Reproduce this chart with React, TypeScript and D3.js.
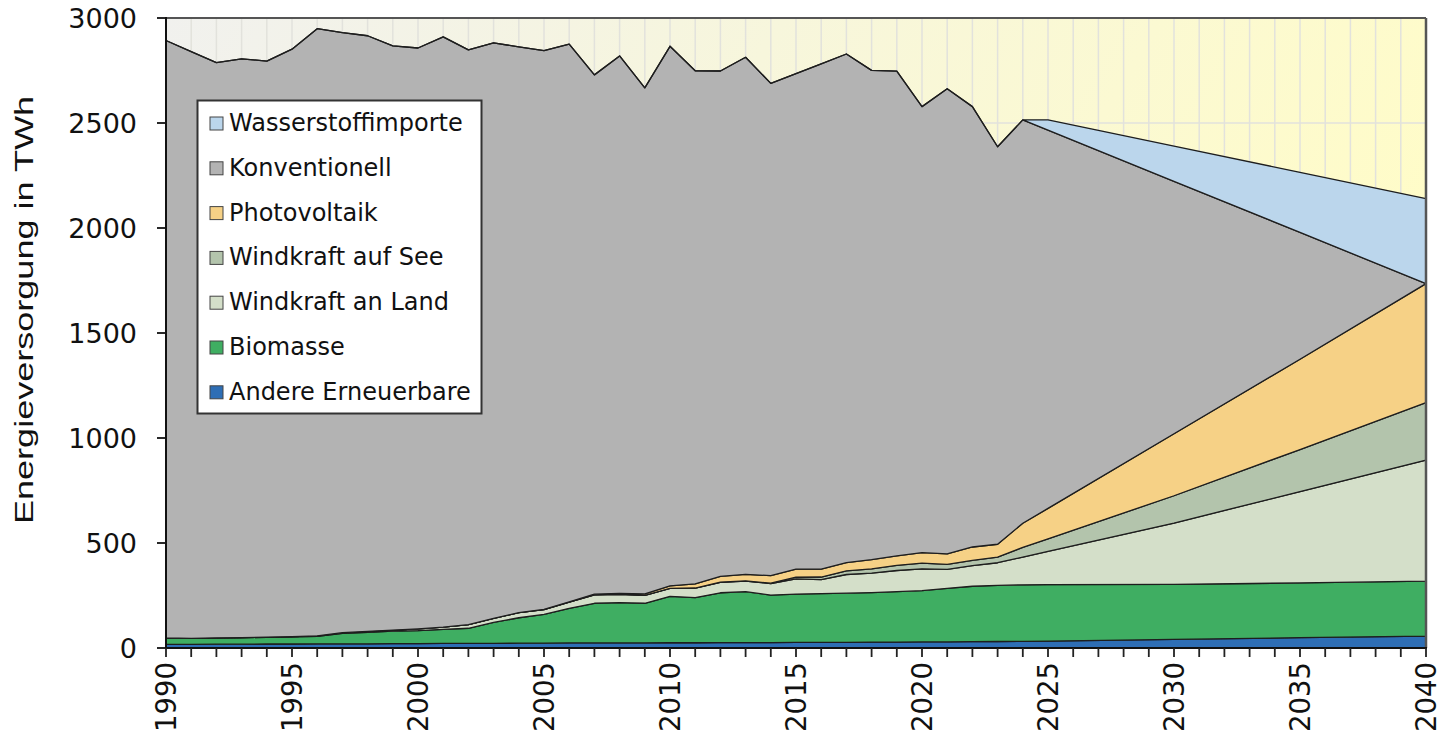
import React, { useEffect, useRef } from "react";
import * as d3 from "d3";

// years: yearly up to 2025, then the projection points
const years = [
  1990, 1991, 1992, 1993, 1994, 1995, 1996, 1997, 1998, 1999,
  2000, 2001, 2002, 2003, 2004, 2005, 2006, 2007, 2008, 2009,
  2010, 2011, 2012, 2013, 2014, 2015, 2016, 2017, 2018, 2019,
  2020, 2021, 2022, 2023, 2024, 2025, 2030, 2035, 2040,
];

// TWh per source
const andereErneuerbare = [
  17, 17, 18, 18, 19, 19, 20, 20, 20, 21,
  21, 22, 22, 22, 23, 23, 24, 24, 24, 24,
  25, 25, 26, 26, 26, 27, 27, 27, 28, 28,
  29, 29, 30, 31, 32, 33, 41, 49, 57,
];
const biomasse = [
  31, 29, 30, 31, 32, 34, 36, 50, 55, 59,
  62, 67, 72, 100, 121, 137, 165, 189, 192, 189,
  221, 215, 237, 242, 226, 230, 232, 234, 236, 240,
  244, 255, 264, 267, 269, 269, 262, 261, 261,
];
const windLand = [
  0, 0.2, 0.3, 0.6, 0.9, 1.5, 2, 3, 4.5, 5.5,
  8, 10, 17, 19, 24, 23, 29, 40, 40, 38,
  38, 45, 50, 51, 55, 72, 67, 89, 93, 101,
  104, 90, 98, 108, 132, 158, 292, 435, 577,
];
const windSee = [
  0, 0, 0, 0, 0, 0, 0, 0, 0, 0,
  0, 0, 0, 0, 0, 0, 0, 0, 0, 0.04,
  0.2, 0.6, 0.7, 0.9, 1.5, 8, 12, 17.5, 19.5, 24.5,
  27, 24, 25, 27, 46, 60, 130, 200, 273,
];
const photovoltaik = [
  0, 0, 0, 0, 0, 0, 0, 0, 0, 0,
  0.06, 0.1, 0.2, 0.3, 0.5, 1.3, 2.2, 3.1, 4.4, 6.6,
  12, 20, 27, 31, 36, 39, 38, 39, 44, 45,
  50, 50, 64, 61, 115, 145, 295, 430, 567,
];
const konventionell = [
  2845, 2794, 2739, 2756, 2743, 2797, 2891, 2857, 2836, 2782,
  2766, 2811, 2737, 2740, 2694, 2660, 2655, 2473, 2559, 2410,
  2569, 2443, 2407, 2462, 2344, 2359, 2406, 2422, 2330, 2309,
  2124, 2215, 2097, 1893, 1921, 1801, 1202, 604, 0,
];
const wasserstoff = [
  0, 0, 0, 0, 0, 0, 0, 0, 0, 0,
  0, 0, 0, 0, 0, 0, 0, 0, 0, 0,
  0, 0, 0, 0, 0, 0, 0, 0, 0, 0,
  0, 0, 0, 0, 0, 49, 168, 286, 405,
];

const series = [
  { key: "andere", label: "Andere Erneuerbare", color: "#2e6eb5", values: andereErneuerbare },
  { key: "bio", label: "Biomasse", color: "#3fae62", values: biomasse },
  { key: "land", label: "Windkraft an Land", color: "#d4dfc9", values: windLand },
  { key: "see", label: "Windkraft auf See", color: "#b3c4ac", values: windSee },
  { key: "pv", label: "Photovoltaik", color: "#f6d186", values: photovoltaik },
  { key: "konv", label: "Konventionell", color: "#b3b3b3", values: konventionell },
  { key: "h2", label: "Wasserstoffimporte", color: "#bbd6ec", values: wasserstoff },
];

const yTicks = [0, 500, 1000, 1500, 2000, 2500, 3000];
const xLabels = [1990, 1995, 2000, 2005, 2010, 2015, 2020, 2025, 2030, 2035, 2040];

export default function App() {
  const ref = useRef<SVGSVGElement>(null);

  useEffect(() => {
    const left = 166, right = 1426, top = 18, bottom = 648;
    const svg = d3.select(ref.current);
    svg.selectAll("*").remove();

    const x = d3.scaleLinear().domain([1990, 2040]).range([left, right]);
    const y = d3.scaleLinear().domain([0, 3000]).range([bottom, top]);

    // background gradient
    const grad = svg.append("defs").append("linearGradient")
      .attr("id", "bg").attr("x1", "0").attr("y1", "0").attr("x2", "1").attr("y2", "0.3");
    grad.append("stop").attr("offset", "0").attr("stop-color", "#f1f1ee");
    grad.append("stop").attr("offset", "0.45").attr("stop-color", "#f7f6dc");
    grad.append("stop").attr("offset", "1").attr("stop-color", "#fffcc8");

    svg.append("rect")
      .attr("x", left).attr("y", top)
      .attr("width", right - left).attr("height", bottom - top)
      .attr("fill", "url(#bg)");

    // grid
    const allYears = d3.range(1991, 2040);
    svg.append("g").selectAll("line").data(allYears).join("line")
      .attr("x1", d => x(d)).attr("x2", d => x(d))
      .attr("y1", top).attr("y2", bottom)
      .attr("stroke", "#e2e2dc").attr("stroke-width", 1.5);
    svg.append("g").selectAll("line").data(yTicks.slice(1, -1)).join("line")
      .attr("x1", left).attr("x2", right)
      .attr("y1", d => y(d)).attr("y2", d => y(d))
      .attr("stroke", "#e2e2dc").attr("stroke-width", 1.5);

    // stacked areas
    const table = years.map((yr, i) => {
      const row: any = { year: yr };
      series.forEach(s => { row[s.key] = s.values[i]; });
      return row;
    });
    const stack = d3.stack().keys(series.map(s => s.key));
    const layers = stack(table);
    const area = d3.area<any>()
      .x(d => x(d.data.year))
      .y0(d => y(d[0]))
      .y1(d => y(d[1]));

    svg.append("g").selectAll("path").data(layers).join("path")
      .attr("d", area)
      .attr("fill", (d, i) => series[i].color)
      .attr("stroke", "#1e1e1e")
      .attr("stroke-width", 1.3)
      .attr("stroke-linejoin", "round");

    // frame
    svg.append("line").attr("x1", left).attr("x2", right).attr("y1", top).attr("y2", top)
      .attr("stroke", "#555").attr("stroke-width", 2);
    svg.append("line").attr("x1", right).attr("x2", right).attr("y1", top).attr("y2", bottom)
      .attr("stroke", "#555").attr("stroke-width", 2.5);
    svg.append("line").attr("x1", left).attr("x2", left).attr("y1", top - 1).attr("y2", bottom + 1)
      .attr("stroke", "#111").attr("stroke-width", 2);
    svg.append("line").attr("x1", left).attr("x2", right + 1).attr("y1", bottom).attr("y2", bottom)
      .attr("stroke", "#111").attr("stroke-width", 2);

    // y axis ticks + labels
    svg.append("g").selectAll("line").data(yTicks).join("line")
      .attr("x1", left - 9).attr("x2", left)
      .attr("y1", d => y(d)).attr("y2", d => y(d))
      .attr("stroke", "#111").attr("stroke-width", 1.8);
    svg.append("g").selectAll("text").data(yTicks).join("text")
      .attr("x", 137).attr("y", d => y(d)).attr("dy", "0.36em")
      .attr("text-anchor", "end")
      .attr("font-family", "DejaVu Sans, Verdana, sans-serif")
      .attr("font-size", 27).attr("fill", "#111")
      .text(d => d);

    // x axis ticks + labels
    svg.append("g").selectAll("line").data(d3.range(1990, 2041)).join("line")
      .attr("x1", d => x(d)).attr("x2", d => x(d))
      .attr("y1", bottom).attr("y2", bottom + 9)
      .attr("stroke", "#222").attr("stroke-width", 1.8);
    svg.append("g").selectAll("text").data(xLabels).join("text")
      .attr("transform", d => `translate(${x(d)}, 662) rotate(-90)`)
      .attr("dy", "0.36em")
      .attr("text-anchor", "end")
      .attr("font-family", "DejaVu Sans, Verdana, sans-serif")
      .attr("font-size", 27.5).attr("fill", "#111")
      .text(d => d);

    // y axis title
    svg.append("text")
      .attr("transform", "translate(33, 310) rotate(-90)")
      .attr("text-anchor", "middle")
      .attr("font-family", "Liberation Sans, Arial, sans-serif")
      .attr("font-size", 26).attr("fill", "#111")
      .attr("textLength", 428).attr("lengthAdjust", "spacingAndGlyphs")
      .text("Energieversorgung in TWh");

    // legend
    const legend = svg.append("g");
    legend.append("rect")
      .attr("x", 197.5).attr("y", 100.5).attr("width", 284).attr("height", 313)
      .attr("fill", "#fff").attr("stroke", "#333").attr("stroke-width", 2);
    const items = series.slice().reverse();
    const rows = legend.selectAll("g.item").data(items).join("g")
      .attr("class", "item")
      .attr("transform", (d, i) => `translate(0, ${i * 44.8})`);
    rows.append("rect")
      .attr("x", 210).attr("y", 117).attr("width", 13).attr("height", 13)
      .attr("fill", d => d.color).attr("stroke", "#444").attr("stroke-width", 1);
    rows.append("text")
      .attr("x", 229).attr("y", 131)
      .attr("font-family", "DejaVu Sans, Verdana, sans-serif")
      .attr("font-size", 24).attr("fill", "#111")
      .text(d => d.label);
  }, []);

  return (
    <div style={{ position: "absolute", left: 0, top: 0 }}>
      <svg ref={ref} width={1441} height={744} />
    </div>
  );
}
